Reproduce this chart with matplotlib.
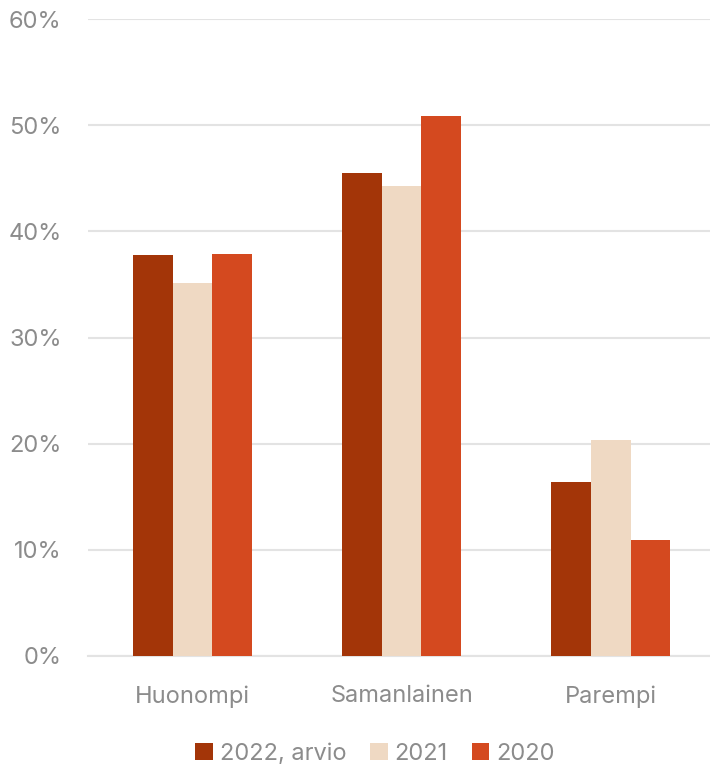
import matplotlib
matplotlib.use('Agg')
import matplotlib.pyplot as plt
import numpy as np

categories = ['Huonompi', 'Samanlainen', 'Parempi']
series_names = ['2022, arvio', '2021', '2020']
v2022 = [37.8, 45.5, 16.4]
v2021 = [35.1, 44.3, 20.3]
v2020 = [37.9, 50.9, 10.9]
yticks = [0, 10, 20, 30, 40, 50, 60]

colors = ['#A33508', '#EFD9C3', '#D4491F']
grey = '#8c8c8c'

plt.rcParams['font.family'] = ['Inter', 'DejaVu Sans']

fig = plt.figure(figsize=(7.10, 7.67), dpi=100)
ax = fig.add_axes([88 / 710, 1 - 656 / 767, 1 - 88 / 710, (656 - 19) / 767])

x = np.arange(len(categories))
w = 0.19
for i, (vals, name) in enumerate(zip([v2022, v2021, v2020], series_names)):
    ax.bar(x + (i - 1) * w, vals, width=w, color=colors[i], label=name, zorder=3)

ax.set_ylim(0, 60)
ax.set_xlim(-0.5, 2.475)
ax.set_yticks(yticks)
ax.set_yticklabels([f'{t}%' for t in yticks])
ax.set_xticks(x)
ax.set_xticklabels(categories)
ax.grid(axis='y', color='#e3e3e3', linewidth=1.5, zorder=0)
for s in ['top', 'right', 'left']:
    ax.spines[s].set_visible(False)
ax.spines['bottom'].set_color('#e3e3e3')
ax.spines['bottom'].set_linewidth(1.5)
ax.tick_params(axis='both', length=0, labelsize=17, colors=grey)
ax.tick_params(axis='y', pad=19)
ax.tick_params(axis='x', pad=21)

fig.legend(loc='center', bbox_to_anchor=(0.528, 1 - 754 / 767), ncol=3, frameon=False,
           fontsize=17, labelcolor=grey, handlelength=0.75, handleheight=0.75,
           handletextpad=0.3, columnspacing=1.0)

plt.savefig('out.png', dpi=100)
plt.close()
